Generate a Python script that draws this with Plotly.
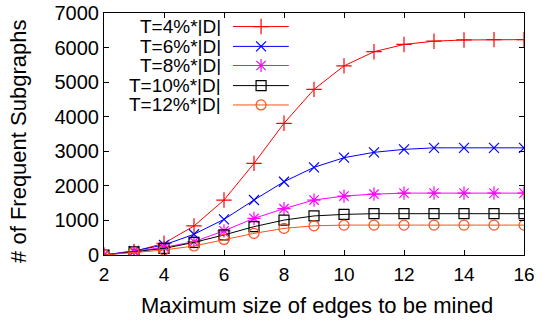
import plotly.graph_objects as go

# Maximum edge size explored by the miner
max_edges = [2, 3, 4, 5, 6, 7, 8, 9, 10, 11, 12, 13, 14, 15, 16]

# Number of frequent subgraphs for each support threshold T
t4 = [0, 100, 340, 840, 1590, 2650, 3810, 4790, 5470, 5880, 6090, 6185, 6220, 6230, 6230]
t6 = [0, 120, 290, 600, 1030, 1590, 2120, 2535, 2815, 2970, 3055, 3100, 3100, 3100, 3100]
t8 = [0, 100, 220, 385, 700, 1060, 1340, 1590, 1705, 1760, 1790, 1790, 1790, 1790, 1790]
t10 = [0, 90, 190, 365, 580, 820, 1010, 1130, 1175, 1195, 1195, 1195, 1195, 1195, 1195]
t12 = [0, 80, 145, 260, 450, 625, 770, 845, 865, 865, 865, 865, 865, 865, 865]

series_names = ["T=4%*|D|", "T=6%*|D|", "T=8%*|D|", "T=10%*|D|", "T=12%*|D|"]
series_values = [t4, t6, t8, t10, t12]
colors = ["#ff0000", "#0000ff", "#ff00ff", "#000000", "#ff4f1a"]
symbols = ["cross-thin-open", "x-thin-open", "asterisk-open", "square-open", "circle-open"]
marker_sizes = [11, 10, 11, 10, 10]

x_ticks = [2, 4, 6, 8, 10, 12, 14, 16]
y_ticks = [0, 1000, 2000, 3000, 4000, 5000, 6000, 7000]

x_title = "Maximum size of edges to be mined"
y_title = "# of Frequent Subgraphs"

FONT = "Liberation Sans, Arial, sans-serif"

fig = go.Figure()

for name, vals, col, sym, ms in zip(series_names, series_values, colors, symbols, marker_sizes):
    fig.add_trace(go.Scatter(
        x=max_edges, y=vals, name=name, mode="lines+markers",
        line=dict(color=col, width=1),
        marker=dict(symbol=sym, size=ms, color=col, line=dict(color=col, width=1.2)),
        showlegend=False,
    ))

# Key box in the upper-left corner: label, then a line sample with its marker
key_rows = [0.944, 0.862, 0.783, 0.700, 0.620]
key_text_x = 0.281
key_line = (0.307, 0.440)
key_marker_x = 0.374

for name, col, sym, ms, ry in zip(series_names, colors, symbols, marker_sizes, key_rows):
    fig.add_annotation(
        x=key_text_x, y=ry, xref="paper", yref="paper",
        text=name, showarrow=False, xanchor="right", yanchor="middle",
        height=19, valign="middle", borderpad=0,
        font=dict(family=FONT, size=19, color="#000000"),
    )
    fig.add_shape(
        type="line", xref="paper", yref="paper",
        x0=key_line[0], x1=key_line[1], y0=ry, y1=ry,
        line=dict(color=col, width=1),
    )
    fig.add_trace(go.Scatter(
        x=[key_marker_x], y=[ry], xaxis="x2", yaxis="y2", mode="markers",
        marker=dict(symbol=sym, size=ms, color=col, line=dict(color=col, width=1.2)),
        showlegend=False, hoverinfo="skip",
    ))

# Axis titles
fig.add_annotation(
    x=0.507, y=-0.207, xref="paper", yref="paper", text=x_title, showarrow=False,
    xanchor="center", yanchor="middle", font=dict(family=FONT, size=22, color="#000000"),
)
fig.add_annotation(
    x=-0.205, y=0.471, xref="paper", yref="paper", text=y_title, showarrow=False,
    textangle=-90, xanchor="center", yanchor="middle",
    font=dict(family=FONT, size=22, color="#000000"),
)

axis_common = dict(
    showgrid=False, zeroline=False, showline=True, linecolor="#000000", linewidth=1,
    mirror="allticks", ticks="inside", ticklen=5, tickcolor="#000000", tickwidth=1,
    automargin=False,
)

fig.update_layout(
    width=542, height=322,
    margin=dict(l=104, r=18, t=13, b=67),
    paper_bgcolor="#ffffff", plot_bgcolor="#ffffff",
    font=dict(family=FONT, size=19, color="#000000"),
    xaxis=dict(
        range=[2, 16], tickvals=x_ticks,
        tickfont=dict(family=FONT, size=19, color="#000000"), ticklabelstandoff=2,
        **axis_common,
    ),
    yaxis=dict(
        range=[0, 7000], tickvals=y_ticks,
        tickfont=dict(family=FONT, size=20, color="#000000"),
        **axis_common,
    ),
    xaxis2=dict(range=[0, 1], overlaying="x", visible=False, fixedrange=True),
    yaxis2=dict(range=[0, 1], overlaying="y", visible=False, fixedrange=True),
)

fig.write_html("out.html")
